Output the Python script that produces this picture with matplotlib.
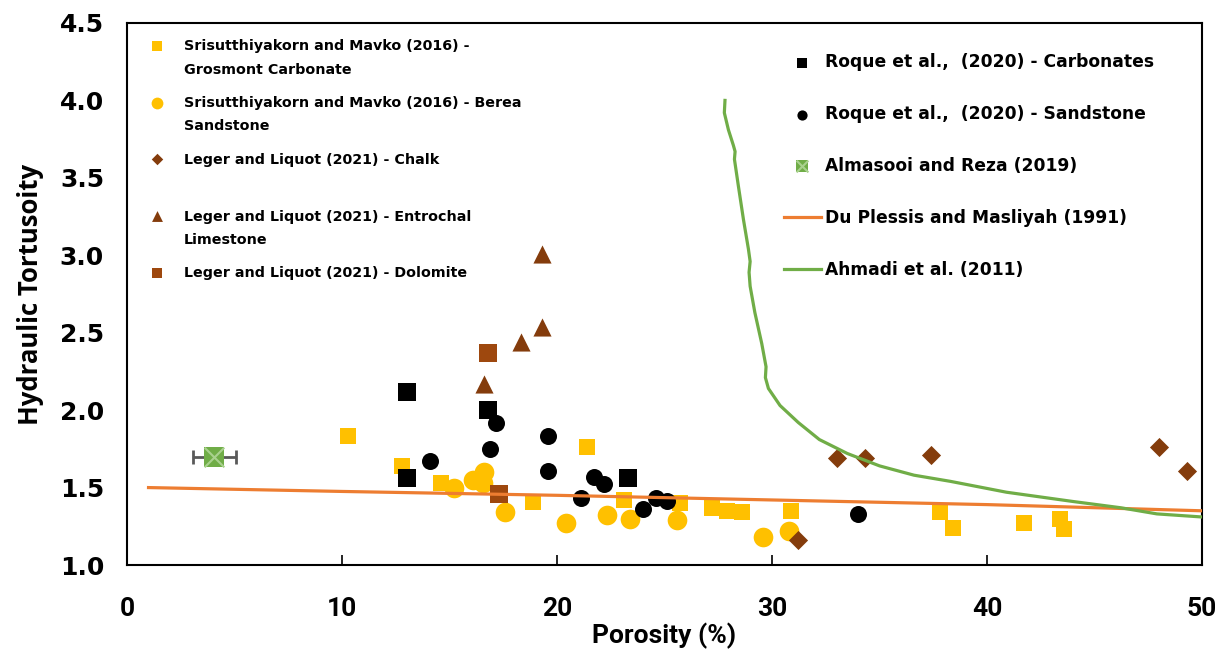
import matplotlib
matplotlib.use("Agg")
import matplotlib.pyplot as plt
import numpy as np

# --- data ---
grosmont_x = [10.3, 12.8, 14.6, 18.9, 21.4, 23.1, 25.7, 27.2, 27.9, 28.6,
              30.9, 37.8, 38.4, 41.7, 43.4, 43.6]
grosmont_y = [1.83, 1.64, 1.53, 1.41, 1.76, 1.42, 1.40, 1.37, 1.35, 1.34,
              1.35, 1.34, 1.24, 1.27, 1.30, 1.23]

berea_x = [15.2, 16.1, 16.55, 16.6, 17.6, 20.4, 22.3, 23.4, 25.6, 29.6, 30.8]
berea_y = [1.50, 1.55, 1.53, 1.60, 1.34, 1.27, 1.32, 1.30, 1.29, 1.18, 1.22]

chalk_x = [31.2, 33.0, 34.3, 37.4, 48.0, 49.3]
chalk_y = [1.16, 1.69, 1.69, 1.71, 1.76, 1.61]

entrochal_x = [16.6, 18.3, 19.3, 19.3]
entrochal_y = [2.17, 2.44, 2.54, 3.01]

dolomite_x = [16.8, 17.3]
dolomite_y = [2.37, 1.46]

roque_carb_x = [13.0, 13.0, 16.8, 23.3]
roque_carb_y = [2.12, 1.56, 2.00, 1.56]

roque_sand_x = [14.1, 16.9, 17.15, 19.6, 19.6, 21.1, 21.7, 22.2, 24.0, 24.6, 25.1, 34.0]
roque_sand_y = [1.67, 1.75, 1.92, 1.83, 1.61, 1.43, 1.57, 1.52, 1.36, 1.43, 1.415, 1.33]

almasooi_x = [4.05]
almasooi_y = [1.70]
almasooi_xerr = [1.0]

du_plessis_x = [1, 10, 20, 30, 40, 50]
du_plessis_y = [1.50, 1.475, 1.45, 1.42, 1.39, 1.35]

ahmadi_x = [27.81, 27.78, 27.97, 28.2, 28.28, 28.25, 28.43, 28.67, 28.9, 28.98,
            28.93, 28.98, 29.2, 29.52, 29.72, 29.69, 29.83, 30.37, 31.22, 32.2,
            33.5, 35.0, 36.6, 38.3, 40.9, 44.0, 46.2, 47.9, 50.0]
ahmadi_y = [4.00, 3.92, 3.81, 3.71, 3.67, 3.62, 3.45, 3.23, 3.04, 2.96,
            2.89, 2.80, 2.63, 2.43, 2.28, 2.21, 2.14, 2.03, 1.92, 1.81,
            1.72, 1.64, 1.58, 1.54, 1.47, 1.41, 1.37, 1.33, 1.31]

x_ticks = [0, 10, 20, 30, 40, 50]
y_ticks = [1.0, 1.5, 2.0, 2.5, 3.0, 3.5, 4.0, 4.5]

# --- colours ---
YELLOW = "#FFC000"
BROWN = "#843C0C"
RUST = "#9E480E"
GREEN = "#70AD47"
ORANGE = "#ED7D31"

fig = plt.figure(figsize=(12.25, 6.51), dpi=100)
ax = fig.add_axes([0.1037, 0.1321, 0.8776, 0.8326])

sq_grosmont = ax.scatter(grosmont_x, grosmont_y, marker="s", s=120, color=YELLOW, lw=0, zorder=2)
ci_berea = ax.scatter(berea_x, berea_y, marker="o", s=200, color=YELLOW, lw=0, zorder=2)
di_chalk = ax.scatter(chalk_x, chalk_y, marker="D", s=95, color=BROWN, lw=0, zorder=2)
tr_entro = ax.scatter(entrochal_x, entrochal_y, marker="^", s=170, color=BROWN, lw=0, zorder=2)
sq_dolo = ax.scatter(dolomite_x, dolomite_y, marker="s", s=150, color=RUST, lw=0, zorder=2)
sq_roque = ax.scatter(roque_carb_x, roque_carb_y, marker="s", s=170, color="black", lw=0, zorder=2)
ci_roque = ax.scatter(roque_sand_x, roque_sand_y, marker="o", s=150, color="black", lw=0, zorder=2)

ax.errorbar(almasooi_x, almasooi_y, xerr=almasooi_xerr, fmt="none", ecolor="#595959",
            elinewidth=2, capsize=5, capthick=2, zorder=2)
alm_sq = ax.scatter(almasooi_x, almasooi_y, marker="s", s=200, color=GREEN, lw=0, zorder=3)
alm_x = ax.scatter(almasooi_x, almasooi_y, marker="x", s=200, color="#A9D18E", lw=1.5, zorder=4)

dp_line, = ax.plot(du_plessis_x, du_plessis_y, color=ORANGE, lw=2.3, zorder=4)
ah_line, = ax.plot(ahmadi_x, ahmadi_y, color=GREEN, lw=2.3, zorder=4)

ax.set_xlim(0, 50)
ax.set_ylim(1.0, 4.5)
ax.set_xticks(x_ticks)
ax.set_yticks(y_ticks)
ax.set_yticklabels([f"{v:.1f}" for v in y_ticks], fontsize=18, fontweight="bold",
                   family=["DejaVu Sans"])
ax.set_xticklabels([str(v) for v in x_ticks], fontsize=19, fontweight="bold",
                   family=["Roboto", "DejaVu Sans"])
ax.tick_params(axis="x", direction="in", length=7, width=1.2, pad=23)
ax.tick_params(axis="y", length=0, pad=16.5)
for sp in ax.spines.values():
    sp.set_linewidth(1.5)

ax.set_xlabel("Porosity (%)", fontsize=19, fontweight="bold",
              family=["Roboto", "DejaVu Sans"], labelpad=1)
ax.set_ylabel("Hydraulic Tortusoity", fontsize=18.5, fontweight="bold",
              family=["Open Sans", "DejaVu Sans"], labelpad=11)

# --- legends ---
left_handles = [sq_grosmont, ci_berea, di_chalk, tr_entro, sq_dolo]
left_labels = [
    "Srisutthiyakorn and Mavko (2016) -\nGrosmont Carbonate",
    "Srisutthiyakorn and Mavko (2016) - Berea\nSandstone",
    "Leger and Liquot (2021) - Chalk\n ",
    "Leger and Liquot (2021) - Entrochal\nLimestone",
    "Leger and Liquot (2021) - Dolomite",
]
leg1 = ax.legend(left_handles, left_labels, loc="upper left",
                 bbox_to_anchor=(0.015, 0.970), frameon=False, borderpad=0,
                 borderaxespad=0, handlelength=2.0, handletextpad=0.84,
                 handleheight=1.1, labelspacing=1.36, scatterpoints=1,
                 markerscale=0.6,
                 prop={"family": "DejaVu Sans", "weight": "bold", "size": 10.3})
for t in leg1.get_texts():
    t.set_linespacing(1.85)
for col in leg1._legend_handle_box.get_children():
    for item in col.get_children():
        item.align = "top"
ax.add_artist(leg1)

right_handles = [sq_roque, ci_roque, (alm_sq, alm_x), dp_line, ah_line]
right_labels = [
    "Roque et al.,  (2020) - Carbonates",
    "Roque et al.,  (2020) - Sandstone",
    "Almasooi and Reza (2019)",
    "Du Plessis and Masliyah (1991)",
    "Ahmadi et al. (2011)",
]
leg2 = ax.legend(right_handles, right_labels, loc="upper left",
                 bbox_to_anchor=(0.611, 0.944), frameon=False, borderpad=0,
                 borderaxespad=0, handlelength=2.15, handletextpad=0.23,
                 labelspacing=1.98, scatterpoints=1, markerscale=0.6,
                 prop={"family": "DejaVu Sans", "weight": "bold", "size": 12.3})

fig.savefig("out.png", dpi=100)
